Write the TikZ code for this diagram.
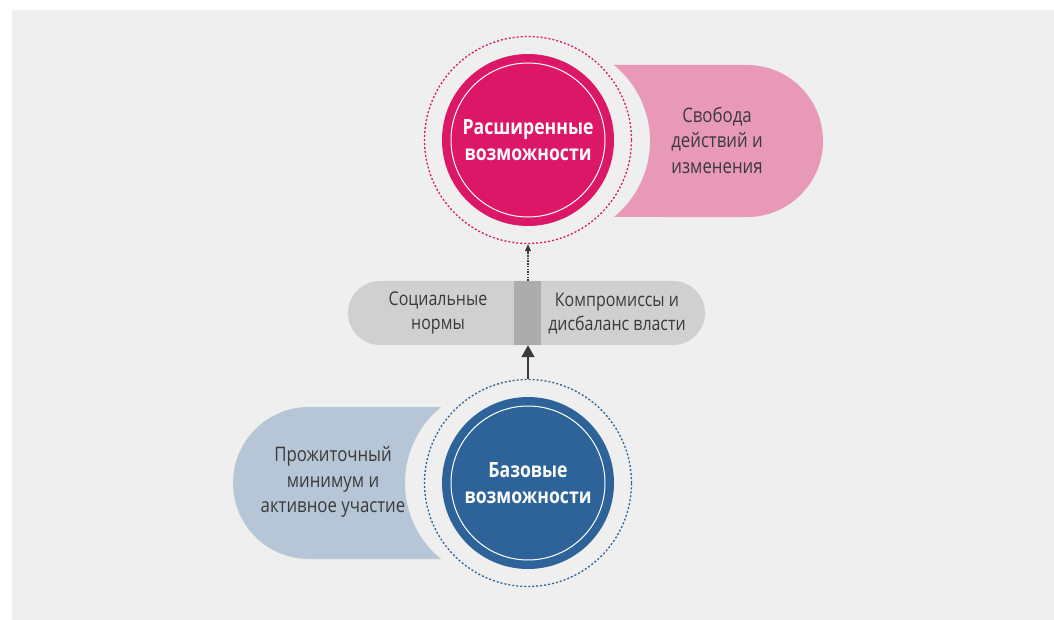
\documentclass[tikz,border=0pt]{standalone}
\usepackage{fontspec}
\setmainfont[FakeStretch=0.84]{Open Sans}
\usetikzlibrary{arrows.meta}
\definecolor{bgc}{HTML}{EFEFEF}
\definecolor{pinkdark}{HTML}{DC1767}
\definecolor{pinklight}{HTML}{E899B7}
\definecolor{bluedark}{HTML}{2E6399}
\definecolor{bluelight}{HTML}{B6C6D7}
\definecolor{bargray}{HTML}{D0D0D0}
\definecolor{banddark}{HTML}{ACACAC}
\definecolor{txt}{HTML}{3A3A3A}
\begin{document}
\begin{tikzpicture}[x=1bp,y=-1bp,
  maincirc/.style={circle,minimum size=172bp,inner sep=0pt,text=white,align=center,
     font=\fontsize{21bp}{26bp}\selectfont\bfseries},
  ringcirc/.style={circle,minimum size=207bp,inner sep=0pt,line width=1.3bp,dash pattern=on 2bp off 2bp},
  lbl/.style={align=center,text=txt,font=\fontsize{20bp}{25.5bp}\selectfont},
  barlbl/.style={align=center,text=txt,font=\fontsize{19bp}{24bp}\selectfont}]
\useasboundingbox (0,0) rectangle (1054,620);
\fill[bgc] (12,10) rectangle (1054,620);
% pink lozenge
\fill[pinklight] (613.9,65) -- (747,65) arc[start angle=90,end angle=-90,radius=76bp]
  -- (613.9,217) arc[start angle=-50.85,end angle=50.85,radius=98bp] -- cycle;
% blue lozenge
\fill[bluelight] (441.1,407) -- (309,407) arc[start angle=90,end angle=270,radius=76bp]
  -- (441.1,559) arc[start angle=230.85,end angle=129.15,radius=98bp] -- cycle;
% bar
\node[rectangle,rounded corners=32bp,minimum width=357bp,minimum height=64bp,inner sep=0pt,fill=bargray] (bar) at (526.5,313) {};
\node[rectangle,minimum width=27bp,minimum height=64bp,inner sep=0pt,fill=banddark] (band) at (527.5,313) {};
\node[barlbl] (social) at (438,313) {Социальные\\нормы};
\node[barlbl] (comp) at (617,313) {Компромиссы и\\дисбаланс власти};
% circles
\node[ringcirc,draw=pinkdark] (extring) at (528,140) {};
\node[maincirc,fill=pinkdark] (ext) at (528,140) {Расширенные\\возможности};
\draw[white,line width=1bp] (ext.center) circle[radius=77bp];
\node[ringcirc,draw=bluedark] (basering) at (528,483) {};
\node[maincirc,fill=bluedark] (base) at (528,483) {Базовые\\возможности};
\draw[white,line width=1bp] (base.center) circle[radius=77bp];
% lozenge texts
\node[lbl] (free) at (717,140) {Свобода\\действий и\\изменения};
\node[lbl] (living) at (333,482) {Прожиточный\\минимум и\\активное участие};
% arrows
\draw[txt,line width=1.2bp,dash pattern=on 1.5bp off 1.2bp,-{Triangle[width=6bp,length=7bp]}]
  (bar.north -| extring.south) -- (extring.south);
\draw[txt,line width=1.3bp,-{Triangle[width=13bp,length=12bp]}]
  (basering.north) -- (bar.south -| basering.north);
\end{tikzpicture}
\end{document}
